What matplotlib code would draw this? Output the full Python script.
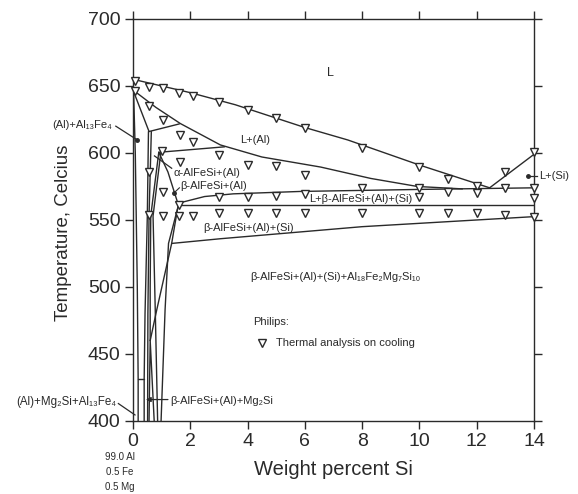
import matplotlib
matplotlib.use("Agg")
import matplotlib.pyplot as plt

FONT = ["Liberation Sans", "DejaVu Sans"]
plt.rcParams["font.family"] = FONT
INK = "#2a2a2a"

# ---------------- data (wt% Si, temperature C) ----------------
liquidus_x = [0, 1, 2, 3.57, 6, 7.5, 10, 12.45]
liquidus_T = [655, 650, 645, 636, 619, 609.7, 591, 574]

si_liquidus_x = [12.45, 14]
si_liquidus_T = [574, 599]

al_lower_x = [0, 0.8, 1.65, 3.05, 4.5, 6.55, 8.3, 9.93, 11.5]
al_lower_T = [647, 634, 622, 606, 597, 589.5, 581, 575, 573.2]

four_phase_top_x = [1.58, 2.5, 3.5, 5.85, 10, 14]
four_phase_top_T = [562.5, 567.5, 569.5, 571.3, 572.8, 574]

four_phase_bot_x = [1.6, 14]
four_phase_bot_T = [561.5, 561.5]

mg_solvus_x = [1.35, 3.05, 8, 14]
mg_solvus_T = [532.5, 536, 545, 552.5]

fe_solidus_x = [0, 0.56]
fe_solidus_T = [647, 616]

al13_upper_x = [0.56, 1.62]
al13_upper_T = [616, 621.7]

alpha_upper_x = [0.9, 3.2]
alpha_upper_T = [600.5, 604.6]

si_solvus_x = [0.9, 1.22, 1.58, 1.35, 0.83, 0.6]
si_solvus_T = [600.5, 585.8, 561.5, 532.5, 483, 460]

si_solvus2_x = [1.55, 1.24, 1.12, 0.98]
si_solvus2_T = [558, 532.5, 483, 400]

al_solvus_x = [0.02, 0.08, 0.15, 0.18, 0.18]
al_solvus_T = [646, 600, 500, 431, 400]

step_x = [0.18, 0.39]
step_T = [431, 431]

v2_x = [0.54, 0.5, 0.42, 0.39, 0.39]
v2_T = [616, 553, 480, 431, 400]

v3_x = [0.64, 0.56, 0.52, 0.51]
v3_T = [616, 553, 480, 400]

v4_x = [0.9, 0.62, 0.6, 0.6]
v4_T = [600.5, 553, 500, 460]

v5_x = [0.97, 0.7, 0.78, 0.86]
v5_T = [600, 553, 480, 400]

peak_x = [0.56, 0.6, 0.74]
peak_T = [400, 460, 400]

# thermal analysis on cooling (Philips)
obs_x = [0.07, 0.07,
         0.55, 1.05, 1.6, 2.1, 3, 4, 5, 6, 8, 10, 14,
         0.55, 1.05, 1.65, 2.1,
         1.0, 3, 1.65, 4, 5, 6, 11, 12, 13,
         0.55,
         1.05, 3, 4, 5, 6, 8, 10, 10, 11, 12, 13, 14, 14,
         1.62,
         0.55, 1.05, 1.62, 2.1, 3, 4, 5, 6, 8, 10, 11, 12, 13, 14]
obs_T = [654, 646,
         649, 648.3, 644.5, 642.5, 638.3, 632, 626, 618.4, 604, 589.8, 601,
         635, 624.6, 613.4, 608.4,
         601.5, 598.5, 593, 591, 590.3, 583.6, 580.5, 575, 586,
         586,
         570.7, 567.4, 567.4, 568, 569.5, 573.6, 573.6, 567.4, 570.7, 570, 574, 574, 566.5,
         561.2,
         554, 553, 553, 553, 555, 555, 555, 555.5, 555.5, 555.5, 555.5, 555.5, 553.5, 552.5]

x_ticks = [0, 2, 4, 6, 8, 10, 12, 14]
y_ticks = [400, 450, 500, 550, 600, 650, 700]

# ---------------- figure ----------------
fig = plt.figure(figsize=(5.78, 4.94), dpi=100)
ax = fig.add_axes([0.2301, 0.1478, 0.6938, 0.8138])
ax.set_xlim(0, 14)
ax.set_ylim(400, 700)

lw = 1.0
boundaries = [
    (liquidus_x, liquidus_T), (si_liquidus_x, si_liquidus_T),
    (al_lower_x, al_lower_T), (four_phase_top_x, four_phase_top_T),
    (four_phase_bot_x, four_phase_bot_T), (mg_solvus_x, mg_solvus_T),
    (fe_solidus_x, fe_solidus_T), (al13_upper_x, al13_upper_T),
    (alpha_upper_x, alpha_upper_T), (si_solvus_x, si_solvus_T),
    (si_solvus2_x, si_solvus2_T), (al_solvus_x, al_solvus_T),
    (step_x, step_T), (v2_x, v2_T), (v3_x, v3_T), (v4_x, v4_T),
    (v5_x, v5_T), (peak_x, peak_T),
]
for bx, bT in boundaries:
    ax.plot(bx, bT, color=INK, lw=lw, solid_capstyle="round")

MS = 6
ax.plot(obs_x, obs_T, linestyle="none", marker="v", markersize=MS,
        markerfacecolor="white", markeredgecolor=INK, markeredgewidth=1.0,
        clip_on=False, zorder=3)

# axes styling
for s in ax.spines.values():
    s.set_color(INK)
    s.set_linewidth(1.0)
ax.set_xticks(x_ticks)
ax.set_yticks(y_ticks)
ax.tick_params(axis="both", which="major", direction="out", length=6,
               width=1.0, color=INK, labelsize=14, labelcolor=INK,
               top=True, right=True, labeltop=False, labelright=False, pad=3)
ax.set_xlabel("Weight percent Si", fontsize=14.5, color=INK, labelpad=7)
ax.set_ylabel("Temperature, Celcius", fontsize=13.5, color=INK)
ax.yaxis.set_label_coords(-0.152, 0.469)

fs = 8
def lab(x, y, s, ha="left", size=fs, **kw):
    ax.text(x, y, s, ha=ha, va="center", fontsize=size, color=INK,
            family=FONT, clip_on=False, **kw)

lab(6.9, 660, "L", ha="center", size=9)
lab(4.27, 610, "L+(Al)", ha="center")
lab(1.42, 584.8, "α-AlFeSi+(Al)")
lab(1.65, 575, "β-AlFeSi+(Al)")
lab(2.45, 543.8, "β-AlFeSi+(Al)+(Si)")
lab(6.14, 566, "L+β-AlFeSi+(Al)+(Si)")
lab(4.1, 507.7, "β-AlFeSi+(Al)+(Si)+Al₁₈Fe₂Mg₇Si₁₀")
lab(4.2, 474, "Philips:")
ax.plot([4.5], [458], linestyle="none", marker="v", markersize=MS,
        markerfacecolor="white", markeredgecolor=INK, markeredgewidth=1.0)
lab(5.0, 458, "Thermal analysis on cooling")

# L+(Si) outside right
lab(14.17, 582.8, "L+(Si)")
ax.plot([13.78, 14.1], [582.8, 582.8], color=INK, lw=0.9, clip_on=False)
ax.plot([13.78], [582.8], marker="o", markersize=2.5, color=INK, clip_on=False)

# pointer lines
ax.plot([1.35, 0.75], [588.6, 597.8], color=INK, lw=0.9)
ax.plot([1.42], [570], marker="o", markersize=2.5, color=INK)
ax.plot([1.42, 1.62], [570, 574], color=INK, lw=0.8)

lab(-0.73, 621, "(Al)+Al₁₃Fe₄", ha="right")
ax.plot([-0.6, 0.13], [620, 610], color=INK, lw=0.9, clip_on=False)
ax.plot([0.13], [610], marker="o", markersize=2.5, color=INK, clip_on=False)

lab(-0.57, 414.5, "(Al)+Mg₂Si+Al₁₃Fe₄", ha="right", size=8.3)
ax.plot([-0.51, 0.07], [413, 404.5], color=INK, lw=0.9, clip_on=False)

lab(1.3, 415, "β-AlFeSi+(Al)+Mg₂Si")
ax.annotate("", xy=(0.45, 416), xytext=(1.22, 416),
            arrowprops=dict(arrowstyle="-|>", color=INK, lw=0.9,
                            mutation_scale=7, shrinkA=0, shrinkB=0))

# alloy composition below x=0
for yv, s in [(373.3, "99.0 Al"), (362.2, "0.5 Fe"), (351, "0.5 Mg")]:
    ax.text(-0.45, yv, s, ha="center", va="center", fontsize=7,
            color=INK, family=FONT, clip_on=False)

fig.savefig("out.png", dpi=100)
